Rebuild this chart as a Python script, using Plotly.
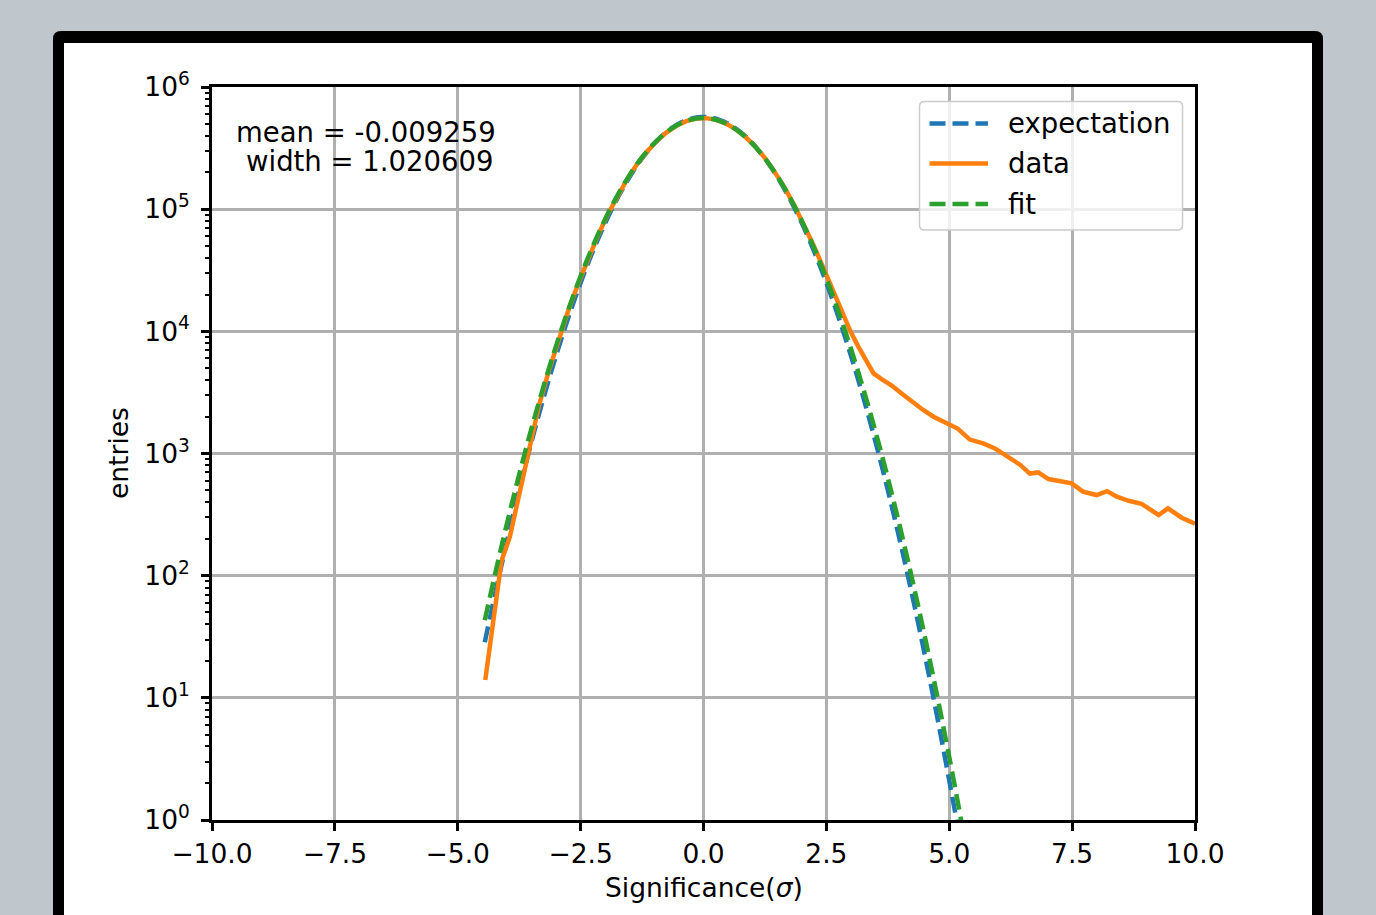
import plotly.graph_objects as go

# ---------------- data ----------------
x_model = [-4.45, -4.25, -4.05, -3.85, -3.65, -3.45, -3.25, -3.05, -2.85, -2.65,
           -2.45, -2.25, -2.05, -1.85, -1.65, -1.45, -1.25, -1.05, -0.85, -0.65,
           -0.45, -0.25, -0.05, 0.15, 0.35, 0.55, 0.75, 0.95, 1.15, 1.35,
           1.55, 1.75, 1.95, 2.15, 2.35, 2.55, 2.75, 2.95, 3.15, 3.35,
           3.55, 3.75, 3.95, 4.15, 4.35, 4.55, 4.75, 4.95, 5.15, 5.35]

expectation = [28.5, 68.0, 155.8, 343.3, 727, 1479, 2891, 5428, 9793, 16975,
               28270, 45230, 69520, 102700, 145700, 198700, 260200, 327500, 396000, 460000,
               513500, 550700, 567300, 561600, 534300, 488400, 428800, 361800, 293100, 228300,
               170800, 122800, 84850, 56300, 35940, 22040, 12970, 7330, 3982, 2079,
               1043, 502, 232, 103.4, 44.2, 18.1, 7.15, 2.70, 0.99, 0.346]

fit = [43.1, 99.2, 219.7, 467.8, 959, 1895, 3598, 6577, 11570, 19580,
       31890, 49980, 75400, 109500, 152900, 205600, 266100, 331100, 396400, 457300,
       507500, 541600, 556600, 550300, 523600, 479400, 422400, 358300, 292400, 229500,
       173400, 126200, 88280, 59430, 38540, 24030, 14420, 8332, 4625, 2475,
       1274, 631, 300.6, 138, 60.9, 25.9, 10.6, 4.17, 1.58, 0.574]

x_data = [-4.44, -4.11, -3.94, -3.75, -3.56, -3.35, -3.15, -2.95, -2.75, -2.55,
          -2.35, -2.15, -1.95, -1.75, -1.55, -1.35, -1.15, -0.95, -0.75, -0.55,
          -0.35, -0.15, 0.05, 0.25, 0.45, 0.65, 0.85, 1.05, 1.25, 1.45,
          1.65, 1.85, 2.05, 2.25, 2.45, 2.65, 2.85, 2.99, 3.15, 3.30,
          3.46, 3.63, 3.83, 4.05, 4.26, 4.47, 4.68, 4.90, 5.05, 5.17,
          5.42, 5.69, 5.93, 6.17, 6.44, 6.64, 6.81, 7.02, 7.29, 7.49,
          7.72, 8.00, 8.21, 8.41, 8.65, 8.91, 9.26, 9.45, 9.73, 10.0]

data = [14, 132, 208, 460, 1000, 2450, 4700, 8600, 14800, 24500,
        39000, 60500, 90500, 129000, 177000, 234000, 296000, 361000, 425000, 481000,
        525000, 551000, 556000, 541000, 504000, 452000, 391000, 327000, 262000, 201000,
        150000, 107000, 74000, 49500, 32300, 20800, 13400, 10000, 7500, 5800,
        4530, 4050, 3600, 3050, 2600, 2270, 2000, 1800, 1700, 1600,
        1300, 1210, 1100, 950, 810, 685, 700, 618, 595, 570,
        488, 457, 492, 443, 410, 388, 314, 356, 298, 266]

x_ticks = [-10.0, -7.5, -5.0, -2.5, 0.0, 2.5, 5.0, 7.5, 10.0]
x_ticktext = ["\u221210.0", "\u22127.5", "\u22125.0", "\u22122.5", "0.0", "2.5", "5.0", "7.5", "10.0"]
y_ticks = [1, 10, 100, 1000, 10000, 100000, 1000000]
y_ticktext = ["10<sup>0</sup>", "10<sup>1</sup>", "10<sup>2</sup>", "10<sup>3</sup>",
              "10<sup>4</sup>", "10<sup>5</sup>", "10<sup>6</sup>"]
y_minor = [m * 10 ** d for d in range(0, 6) for m in range(2, 10)]

series_names = ["expectation", "data", "fit"]
series_colors = ["#1f77b4", "#ff7f0e", "#2ca02c"]
stats_text = ["mean = -0.009259", "width = 1.020609"]

# ---------------- layout geometry (pixels) ----------------
W, H = 1376, 915
L, R, T, B = 212, 1195, 87, 820
FONT = "DejaVu Sans"
FS = 27.5
TFS = 26.5
DASH = "16px,7px"
LW = 4.5


def fx(p):
    return (p - L) / (R - L)


def fy(p):
    return (B - p) / (B - T)


def rrect(x0, y0, x1, y1, r):
    return (f"M {fx(x0 + r)},{fy(y0)} L {fx(x1 - r)},{fy(y0)} "
            f"Q {fx(x1)},{fy(y0)} {fx(x1)},{fy(y0 + r)} "
            f"L {fx(x1)},{fy(y1 - r)} Q {fx(x1)},{fy(y1)} {fx(x1 - r)},{fy(y1)} "
            f"L {fx(x0 + r)},{fy(y1)} Q {fx(x0)},{fy(y1)} {fx(x0)},{fy(y1 - r)} "
            f"L {fx(x0)},{fy(y0 + r)} Q {fx(x0)},{fy(y0)} {fx(x0 + r)},{fy(y0)} Z")


fig = go.Figure()
fig.add_trace(go.Scatter(x=x_model, y=expectation, mode="lines", name=series_names[0],
                         line=dict(color=series_colors[0], width=LW, dash=DASH, shape="spline"),
                         showlegend=False))
fig.add_trace(go.Scatter(x=x_data, y=data, mode="lines", name=series_names[1],
                         line=dict(color=series_colors[1], width=LW),
                         showlegend=False))
fig.add_trace(go.Scatter(x=x_model, y=fit, mode="lines", name=series_names[2],
                         line=dict(color=series_colors[2], width=LW, dash=DASH, shape="spline"),
                         showlegend=False))

shapes = [
    # black frame and white panel
    dict(type="path", xref="paper", yref="paper", layer="below",
         path=rrect(53, 31, 1323, 960, 8), fillcolor="black", line=dict(width=0)),
    dict(type="rect", xref="paper", yref="paper", layer="below",
         x0=fx(64), x1=fx(1312), y0=fy(960), y1=fy(43), fillcolor="white", line=dict(width=0)),
    # legend box
    dict(type="path", xref="paper", yref="paper", layer="above",
         path=rrect(919.5, 101.5, 1182.5, 230, 5), fillcolor="rgba(255,255,255,0.8)",
         line=dict(color="#cccccc", width=1.5)),
]
leg_y = [123.5, 163.5, 204]
for i in range(3):
    shapes.append(dict(type="line", xref="paper", yref="paper", layer="above",
                       x0=fx(929.5), x1=fx(988), y0=fy(leg_y[i]), y1=fy(leg_y[i]),
                       line=dict(color=series_colors[i], width=LW,
                                 dash=None if i == 1 else DASH)))

annotations = []
for i in range(3):
    annotations.append(dict(xref="paper", yref="paper", x=fx(1006), y=fy(leg_y[i] - 0.5),
                            xanchor="left", yanchor="middle", showarrow=False,
                            text=series_names[i], font=dict(family=FONT, size=FS, color="black")))
annotations.append(dict(xref="paper", yref="paper", x=fx(366), y=fy(132),
                        xanchor="center", yanchor="middle", showarrow=False,
                        text=stats_text[0], font=dict(family=FONT, size=FS, color="black")))
annotations.append(dict(xref="paper", yref="paper", x=fx(369.5), y=fy(161.5),
                        xanchor="center", yanchor="middle", showarrow=False,
                        text=stats_text[1], font=dict(family=FONT, size=FS, color="black")))
annotations.append(dict(xref="paper", yref="paper", x=fx(703.5), y=fy(887),
                        xanchor="center", yanchor="middle", showarrow=False,
                        text="Significance(<i>\u03c3</i>)", font=dict(family=FONT, size=TFS, color="black")))
annotations.append(dict(xref="paper", yref="paper", x=fx(118), y=fy(453),
                        xanchor="center", yanchor="middle", showarrow=False, textangle=-90,
                        text="entries", font=dict(family=FONT, size=TFS, color="black")))

axis_common = dict(showline=True, linecolor="black", linewidth=2.8, mirror=True,
                   ticks="outside", ticklen=8, tickwidth=2.5, tickcolor="black",
                   showgrid=True, gridcolor="#b0b0b0", gridwidth=2.5, zeroline=False,
                   tickfont=dict(family=FONT, size=TFS, color="black"))

fig.update_layout(
    width=W, height=H,
    margin=dict(l=L, r=W - R, t=T, b=H - B, autoexpand=False),
    paper_bgcolor="#bfc6cc",
    plot_bgcolor="white",
    showlegend=False,
    shapes=shapes,
    annotations=annotations,
    xaxis=dict(range=[-10, 10], tickmode="array", tickvals=x_ticks, ticktext=x_ticktext,
               **axis_common),
    yaxis=dict(type="log", range=[0, 6], tickmode="array", tickvals=y_ticks, ticktext=y_ticktext,
               ticklabelstandoff=6,
               minor=dict(ticks="outside", ticklen=4.5, tickwidth=1.8, tickcolor="black",
                          tickmode="array", tickvals=y_minor, showgrid=False),
               **axis_common),
)

fig.write_html("out.html")
